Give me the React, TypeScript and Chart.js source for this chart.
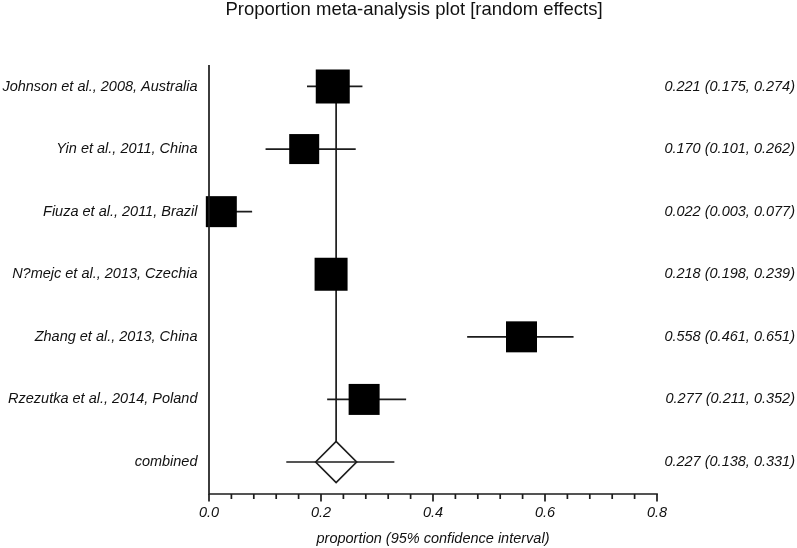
import React, { useEffect, useRef } from "react";
import { Chart, registerables } from "chart.js";

Chart.register(...registerables);

const studies = [
  "Johnson et al., 2008, Australia",
  "Yin et al., 2011, China",
  "Fiuza et al., 2011, Brazil",
  "N?mejc et al., 2013, Czechia",
  "Zhang et al., 2013, China",
  "Rzezutka et al., 2014, Poland",
];
const estimates = [0.221, 0.17, 0.022, 0.218, 0.558, 0.277];
const lowerCI = [0.175, 0.101, 0.003, 0.198, 0.461, 0.211];
const upperCI = [0.274, 0.262, 0.077, 0.239, 0.651, 0.352];
const combinedLabel = "combined";
const pooled = 0.227;
const pooledLower = 0.138;
const pooledUpper = 0.331;
const xTickValues = [0, 0.2, 0.4, 0.6, 0.8];
const title = "Proportion meta-analysis plot [random effects]";
const xTitle = "proportion (95% confidence interval)";

// marker side lengths in px (style)
const markerSides = [34, 30, 31, 33, 31, 31];

const LINE = "#1c1c1c";
const FONT = "'Liberation Sans', Arial, Helvetica, sans-serif";

function fmt(e: number, l: number, u: number) {
  return `${e.toFixed(3)} (${l.toFixed(3)}, ${u.toFixed(3)})`;
}

export default function App() {
  const ref = useRef<HTMLCanvasElement | null>(null);
  useEffect(() => {
    if (!ref.current) return;
    const rows = studies.map((_, i) => i + 1);
    const combinedRow = studies.length + 1;

    const ciSets = studies.map((_, i) => ({
      type: "scatter" as const,
      data: [
        { x: lowerCI[i], y: rows[i] },
        { x: upperCI[i], y: rows[i] },
      ],
      showLine: true,
      borderColor: LINE,
      borderWidth: 1.7,
      pointRadius: 0,
      order: 4,
      clip: false as any,
    }));

    const overlay = {
      id: "forestOverlay",
      afterDraw(chart: any) {
        const ctx = chart.ctx as CanvasRenderingContext2D;
        const xs = chart.scales.x;
        const ys = chart.scales.y;
        const a = chart.chartArea;
        ctx.save();
        // title
        ctx.fillStyle = "#111";
        ctx.font = `18.5px ${FONT}`;
        ctx.textAlign = "center";
        ctx.textBaseline = "alphabetic";
        ctx.fillText(title, 414, 15);
        // axes
        ctx.strokeStyle = LINE;
        ctx.lineWidth = 1.7;
        ctx.beginPath();
        ctx.moveTo(a.left, a.top);
        ctx.lineTo(a.left, a.bottom);
        ctx.moveTo(a.left - 0.85, a.bottom);
        ctx.lineTo(a.right + 0.85, a.bottom);
        ctx.stroke();
        // ticks
        const minorStep = 0.04;
        const n = Math.round((xs.max - xs.min) / minorStep);
        ctx.beginPath();
        for (let k = 0; k <= n; k++) {
          const v = xs.min + k * minorStep;
          const px = xs.getPixelForValue(v);
          const major = k % 5 === 0;
          ctx.moveTo(px, a.bottom);
          ctx.lineTo(px, a.bottom + (major ? 7.5 : 5));
        }
        ctx.stroke();
        // tick labels
        ctx.fillStyle = "#111";
        ctx.font = `italic 14.5px ${FONT}`;
        ctx.textAlign = "center";
        ctx.textBaseline = "middle";
        xTickValues.forEach((v) => {
          ctx.fillText(v.toFixed(1), xs.getPixelForValue(v), a.bottom + 19);
        });
        ctx.fillText(xTitle, (a.left + a.right) / 2, a.bottom + 45);
        // row labels
        ctx.textAlign = "right";
        studies.forEach((s, i) => {
          const py = ys.getPixelForValue(rows[i]);
          ctx.fillText(s, a.left - 11.5, py);
          ctx.fillText(fmt(estimates[i], lowerCI[i], upperCI[i]), 795, py);
        });
        const cy = ys.getPixelForValue(combinedRow);
        ctx.fillText(combinedLabel, a.left - 11.5, cy);
        ctx.fillText(fmt(pooled, pooledLower, pooledUpper), 795, cy);
        ctx.restore();
      },
    };

    const chart = new Chart(ref.current, {
      type: "scatter",
      data: {
        datasets: [
          {
            data: estimates.map((e, i) => ({ x: e, y: rows[i] })),
            pointStyle: "rect",
            pointRadius: markerSides.map((s) => s / Math.SQRT2),
            backgroundColor: "#000",
            borderWidth: 0,
            showLine: false,
            order: 0,
            clip: false as any,
          },
          {
            data: [
              { x: pooledLower, y: combinedRow },
              { x: pooledUpper, y: combinedRow },
            ],
            showLine: true,
            borderColor: LINE,
            borderWidth: 1.7,
            pointRadius: 0,
            order: 1,
            clip: false as any,
          },
          {
            data: [{ x: pooled, y: combinedRow }],
            pointStyle: "rectRot",
            pointRadius: 20.5,
            backgroundColor: "#fff",
            borderColor: LINE,
            borderWidth: 1.7,
            showLine: false,
            order: 2,
            clip: false as any,
          },
          {
            data: [
              { x: pooled, y: 1 },
              { x: pooled, y: combinedRow },
            ],
            showLine: true,
            borderColor: LINE,
            borderWidth: 1.7,
            pointRadius: 0,
            order: 3,
            clip: false as any,
          },
          ...ciSets,
        ] as any,
      },
      options: {
        responsive: false,
        animation: false,
        events: [],
        layout: { padding: { left: 209, right: 140, top: 65, bottom: 54 } },
        scales: {
          x: { type: "linear", min: 0, max: 0.8, display: false },
          y: { type: "linear", min: 0.657, max: 7.511, reverse: true, display: false },
        },
        plugins: {
          legend: { display: false },
          tooltip: { enabled: false },
          title: { display: false },
        },
      },
      plugins: [overlay],
    });
    return () => chart.destroy();
  }, []);

  return (
    <div style={{ position: "fixed", left: 0, top: 0, width: 797, height: 548, background: "#fff" }}>
      <canvas ref={ref} width={797} height={548} style={{ display: "block" }} />
    </div>
  );
}
